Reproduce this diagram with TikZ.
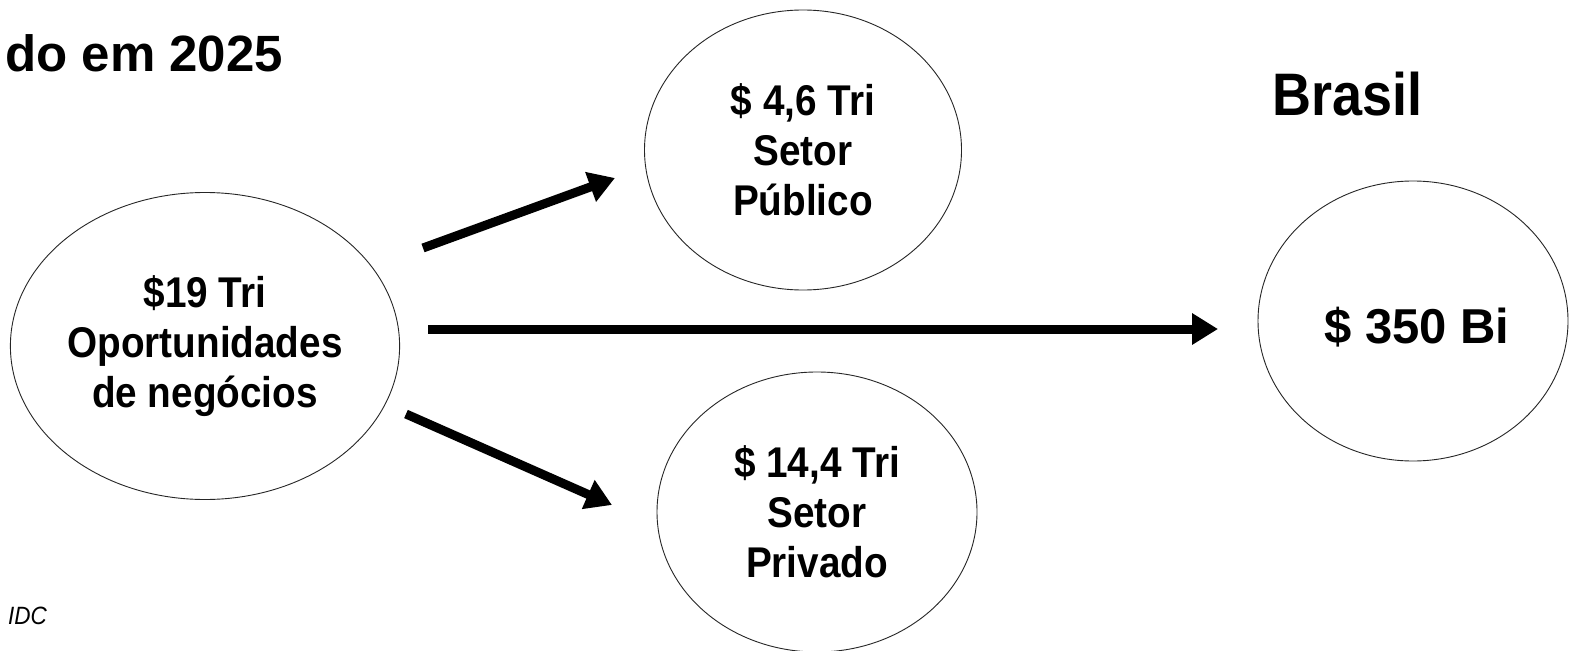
\documentclass[tikz,border=0pt]{standalone}
\usepackage{fontspec}
\setmainfont{Liberation Sans}
\newfontfamily\bodyfont[FakeStretch=0.9]{Liberation Sans}
\usetikzlibrary{shapes.geometric,arrows.meta}
\begin{document}
\begin{tikzpicture}[x=1pt,y=-1pt,
  bubble/.style={draw=black!85,line width=0.9pt,ellipse,inner sep=0pt,align=center,
    font=\bodyfont\bfseries\fontsize{43}{50}\selectfont},
  bigarrow/.style={line width=9pt,-{Triangle[length=26pt,width=30pt]}}]
\useasboundingbox (0,0) rectangle (1570,650);
\fill[white] (0,0) rectangle (1570,650);
\node[anchor=base west,font=\bfseries\fontsize{51}{60}\selectfont,inner sep=0pt] (title) at (5,72) {do em 2025};
\node[anchor=base west,font=\bodyfont\bfseries\fontsize{60}{68}\selectfont,inner sep=0pt] (brasil) at (1272,116) {Brasil};
\node[anchor=base west,font=\bodyfont\itshape\fontsize{25}{30}\selectfont,inner sep=0pt] (src) at (8,624) {IDC};
\node[bubble,minimum width=386pt,minimum height=307pt] (left) at (205,346) {\$19 Tri\\Oportunidades\\de negócios};
\node[bubble,minimum width=317pt,minimum height=280pt] (top) at (803,150) {\$ 4,6 Tri\\Setor\\Público};
\node[bubble,minimum width=320pt,minimum height=280pt] (bot) at (817,512) {\$ 14,4 Tri\\Setor\\Privado};
\node[bubble,minimum width=310pt,minimum height=280pt] (right) at (1413,321) {};
\node[font=\bfseries\fontsize{49}{56}\selectfont,inner sep=0pt] (rightlabel) at (1417,327) {\$ 350 Bi};
\coordinate (a1s) at (423,248);
\coordinate (a1e) at (615,178);
\coordinate (a2s) at (428,329);
\coordinate (a2e) at (1218,329);
\coordinate (a3s) at (406,414);
\coordinate (a3e) at (612,505);
\draw[bigarrow] (a1s) -- (a1e);
\draw[bigarrow] (a2s) -- (a2e);
\draw[bigarrow] (a3s) -- (a3e);
\end{tikzpicture}
\end{document}
